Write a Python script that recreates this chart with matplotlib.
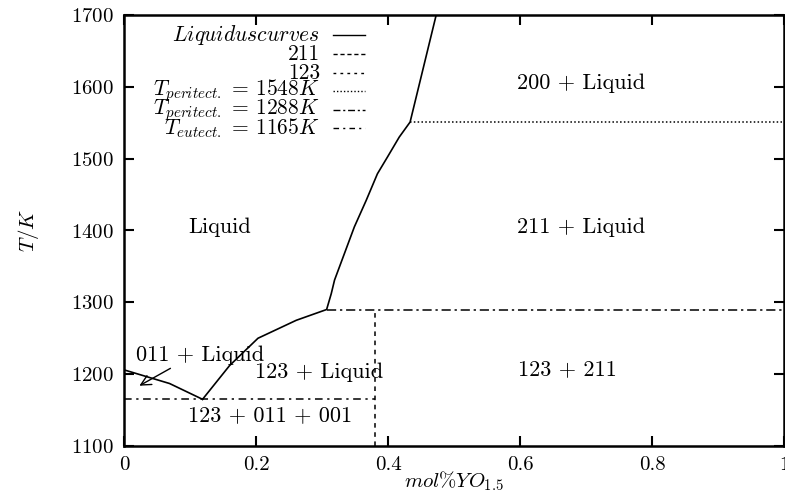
import matplotlib.pyplot as plt
from matplotlib.lines import Line2D

plt.rcParams['font.family'] = ['cmr10', 'DejaVu Serif']
plt.rcParams['mathtext.fontset'] = 'cm'
plt.rcParams['axes.formatter.use_mathtext'] = True

# liquidus curves (mol fraction YO1.5, temperature in K)
liq_left_x = [0.0, 0.069, 0.119]
liq_left_t = [1206, 1187, 1165]
liq_right_x = [0.119, 0.16, 0.203, 0.261, 0.307, 0.314, 0.319, 0.334, 0.349,
               0.367, 0.384, 0.399, 0.417, 0.4335, 0.473]
liq_right_t = [1165, 1212, 1250, 1275, 1290, 1312, 1331, 1368, 1405,
               1442, 1479, 1502, 1530, 1551, 1700]

# invariant lines
t_peri_high = 1551
x_peri_high = [0.4335, 1.0]
t_peri_low = 1290
x_peri_low = [0.307, 1.0]
t_eut = 1165
x_eut = [0.0, 0.38]
x_123 = 0.38
t_123 = [1100, 1290]

# phase field labels
field_labels = ['200 + Liquid', 'Liquid', '211 + Liquid', '011 + Liquid',
                '123 + Liquid', '123 + 211', '123 + 011 + 001']
field_x = [0.692, 0.145, 0.692, 0.115, 0.296, 0.672, 0.222]
field_t = [1605, 1405, 1405, 1226, 1203, 1207, 1143]

legend_labels = [r'$Liquiduscurves$', '211', '123',
                 r'$T_{peritect.}\,=\,1548K$', r'$T_{peritect.}\,=\,1288K$',
                 r'$T_{eutect.}\,=\,1165K$']

fig = plt.figure(figsize=(7.85, 4.95), dpi=100)
ax = fig.add_axes([124 / 785, 1 - 446 / 495, 660 / 785, 431 / 495])

ax.plot(liq_left_x, liq_left_t, color='black', lw=1.2)
ax.plot(liq_right_x, liq_right_t, color='black', lw=1.2)
ax.plot(x_peri_high, [t_peri_high] * 2, color='black', lw=1.1, ls=(0, (1, 1.5)))
ax.plot(x_peri_low, [t_peri_low] * 2, color='black', lw=1.1, ls=(0, (6, 2.5, 1.5, 2.5)))
ax.plot(x_eut, [t_eut] * 2, color='black', lw=1.1, ls=(0, (5, 3, 1.5, 3)))
ax.plot([x_123, x_123], t_123, color='black', lw=1.1, ls=(0, (3, 3)))

for lab, x, t in zip(field_labels, field_x, field_t):
    ax.text(x, t, lab, ha='center', va='center', fontsize=16)

ax.annotate('', xy=(0.0196, 1182), xytext=(0.074, 1210),
            arrowprops=dict(arrowstyle='->', color='black', lw=1.0,
                            mutation_scale=18))

# legend drawn gnuplot-style: right-aligned text, sample line on the right
styles = ['-', (0, (3, 2)), (0, (2, 3)), (0, (1, 1.5)),
          (0, (5, 2, 1.5, 2)), (0, (4, 3, 1.5, 3))]
rows_y = [35, 54, 73, 91, 110, 128]
for lab, ls, py in zip(legend_labels, styles, rows_y):
    yy = 1 - (py - 15) / 431
    ax.text((320 - 124) / 660, yy, lab, transform=ax.transAxes,
            ha='right', va='center', fontsize=15.5)
    ax.add_line(Line2D([(333 - 124) / 660, (365 - 124) / 660], [yy, yy],
                       transform=ax.transAxes, color='black', lw=1.0, ls=ls))

ax.set_xlim(0, 1)
ax.set_ylim(1100, 1700)
ax.set_xticks([0, 0.2, 0.4, 0.6, 0.8, 1], ['0', '0.2', '0.4', '0.6', '0.8', '1'])
ax.set_yticks(range(1100, 1701, 100))
ax.tick_params(direction='in', top=True, right=True, length=7, width=1.5,
               labelsize=15, pad=7)
for s in ax.spines.values():
    s.set_linewidth(1.8)

ax.set_xlabel(r'$mol\%YO_{1.5}$', fontsize=15, labelpad=-3)
ax.set_ylabel(r'$T/K$', fontsize=15, labelpad=22)

fig.savefig('out.png', dpi=100)
